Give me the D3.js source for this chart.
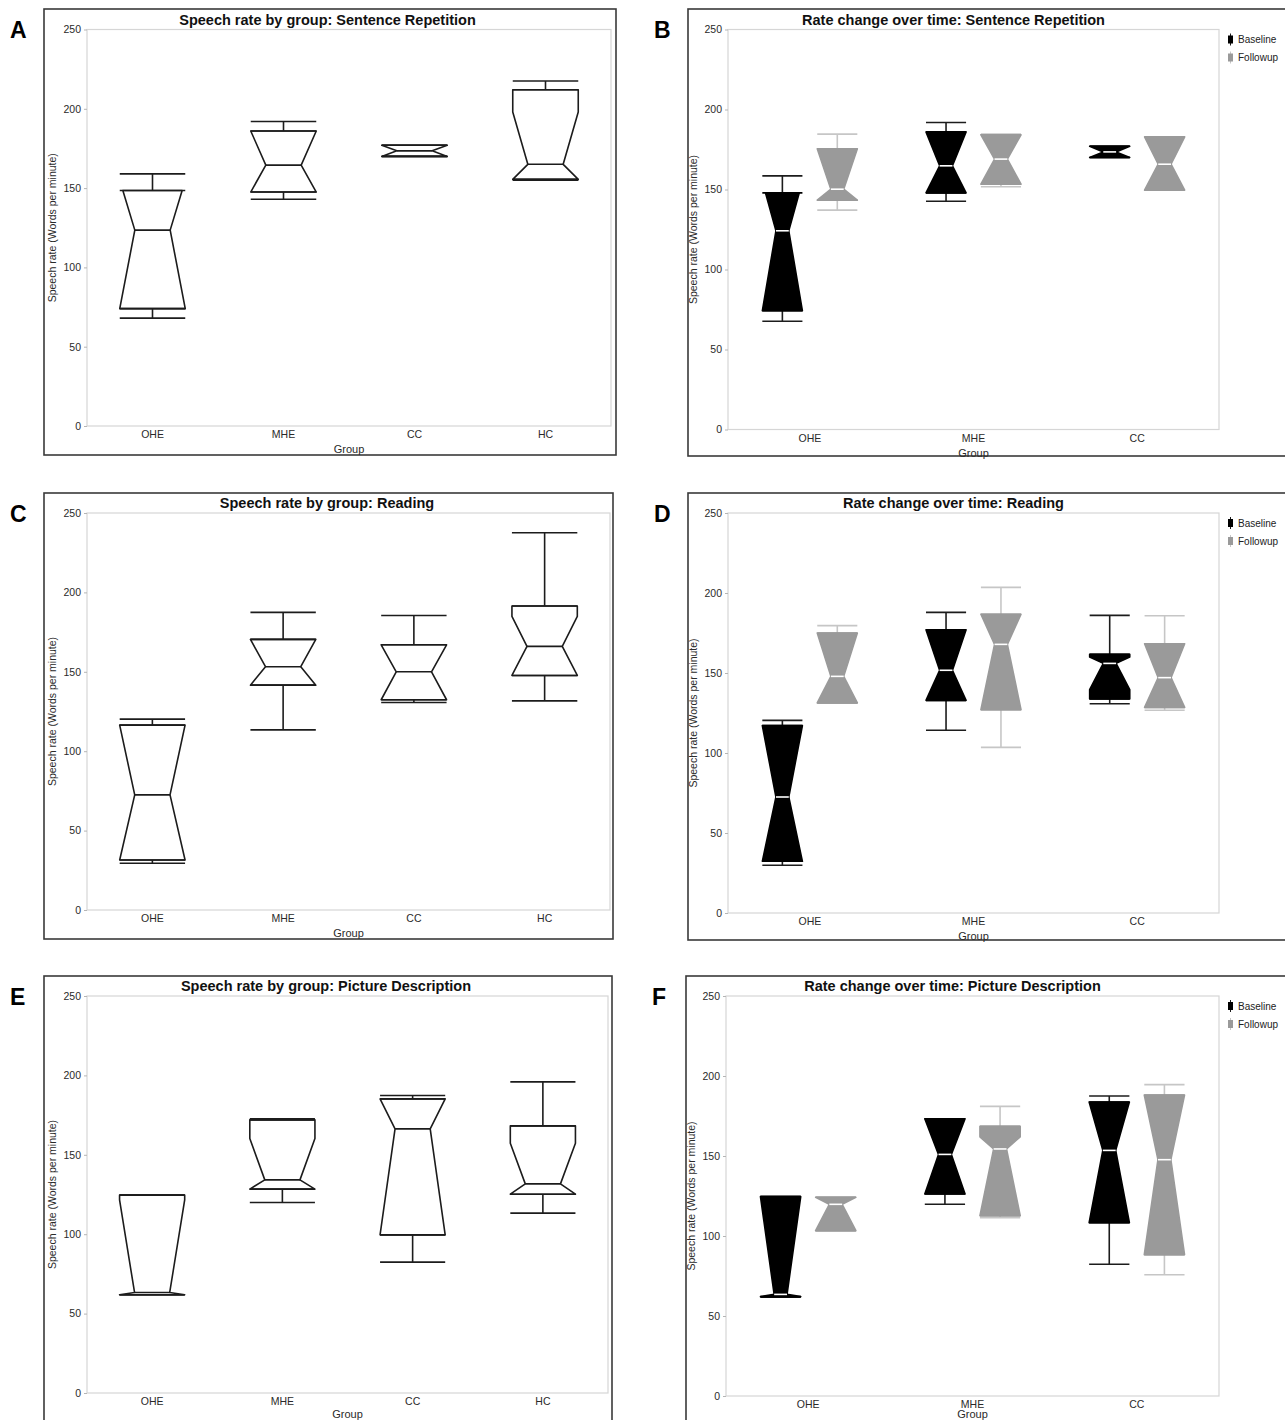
<!DOCTYPE html>
<html><head><meta charset="utf-8">
<script src="https://cdn.jsdelivr.net/npm/d3@7"></script>
<style>
body{margin:0;background:#fff}
svg{display:block;font-family:"Liberation Sans",Arial,Helvetica,sans-serif}
</style>
</head><body>
<svg id="fig" width="1285" height="1420"></svg>
<script>
var groups4 = ["OHE", "MHE", "CC", "HC"];
var groups3 = ["OHE", "MHE", "CC"];
var times = ["Baseline", "Followup"];
var yTicks = [0, 50, 100, 150, 200, 250];

// one box per group: [whisker low, q1, notch low, median, notch high, q3, whisker high]
var sentenceGroup = [
  [68, 74, 74, 123.5, 155, 148.5, 159],
  [143, 147.5, 147.5, 164.5, 186, 186, 192],
  [170, 170, 170, 173.5, 177, 177, 177],
  [155, 155.5, 155.5, 165, 198, 212, 217.5]
];
var sentenceBaseline = [
  [67.7, 74.2, 74.2, 124.2, 155, 147.9, 158.5],
  [142.7, 147.9, 147.9, 164.8, 186, 186, 191.9],
  [170, 170, 170, 173.5, 177, 177, 177]
];
var sentenceFollowup = [
  [137.1, 143.3, 143.3, 150.2, 175.4, 175.4, 184.6],
  [151.7, 153.3, 153.3, 169, 184.2, 184.2, 184.6],
  [149.6, 149.6, 149.6, 165.8, 182.9, 182.9, 182.9]
];
var readingGroup = [
  [29.4, 31.5, 31.5, 72.5, 116.4, 116.4, 120.2],
  [113.4, 141.6, 141.6, 153.2, 170.4, 170.4, 187.4],
  [130.7, 132.4, 132.4, 150, 167, 167, 185.5],
  [131.7, 147.7, 147.7, 166, 184.9, 191.4, 237.6]
];
var readingBaseline = [
  [29.8, 32.3, 32.3, 72.5, 117.1, 117.1, 120.4],
  [114.2, 132.9, 132.9, 151.7, 177, 177, 187.9],
  [130.8, 133.8, 139.6, 156, 160, 161.7, 186]
];
var readingFollowup = [
  [131.3, 131.3, 131.3, 147.9, 175, 175, 179.6],
  [103.5, 127.1, 127.1, 167.9, 186.7, 186.7, 203.5],
  [126.7, 128.5, 128.5, 147.1, 168.3, 168.3, 185.8]
];
var pictureGroup = [
  [61.9, 61.9, 61.9, 63.3, 121.6, 124.6, 124.6],
  [120, 128.4, 128.4, 134.2, 160.3, 172, 172.6],
  [82.4, 99.6, 99.6, 166.3, 185.2, 185.2, 187.3],
  [113.3, 125.2, 125.2, 131.7, 157.3, 168.2, 195.9]
];
var pictureBaseline = [
  [61.7, 62.1, 62.1, 63.5, 124.6, 124.6, 124.6],
  [119.8, 126.3, 126.3, 151, 173.3, 173.3, 173.3],
  [82.3, 108.3, 108.3, 153.5, 183.75, 183.75, 187.5]
];
var pictureFollowup = [
  [103.3, 103.3, 103.3, 119.8, 124.2, 124.2, 124.2],
  [111.5, 112.7, 112.7, 154.4, 162, 168.5, 181],
  [75.8, 88.3, 88.3, 147.7, 188.1, 188.1, 194.6]
];

var panels = [
  {letter: "A", title: "Speech rate by group: Sentence Repetition", frame: [44, 9, 616, 455], plot: [87, 611, 29.5, 426], groups: groups4, boxes: [sentenceGroup]},
  {letter: "B", title: "Rate change over time: Sentence Repetition", frame: [688, 9, 1300, 456], plot: [728, 1219, 29.5, 429.5], groups: groups3, boxes: [sentenceBaseline, sentenceFollowup]},
  {letter: "C", title: "Speech rate by group: Reading", frame: [44, 493, 613, 939], plot: [87, 610, 513, 910], groups: groups4, boxes: [readingGroup]},
  {letter: "D", title: "Rate change over time: Reading", frame: [688, 493, 1300, 940], plot: [728, 1219, 513, 913], groups: groups3, boxes: [readingBaseline, readingFollowup]},
  {letter: "E", title: "Speech rate by group: Picture Description", frame: [44, 976, 612, 1440], plot: [87, 608, 996, 1393], groups: groups4, boxes: [pictureGroup]},
  {letter: "F", title: "Rate change over time: Picture Description", frame: [686, 976, 1300, 1440], plot: [726, 1219, 996, 1396], groups: groups3, boxes: [pictureBaseline, pictureFollowup]}
];

var styles = {
  single: {fill: "none", stroke: "#1c1c1c", whisker: "#1c1c1c", median: "#1c1c1c"},
  Baseline: {fill: "#000", stroke: "#000", whisker: "#1c1c1c", median: "#fff"},
  Followup: {fill: "#9a9a9a", stroke: "#9a9a9a", whisker: "#c6c6c6", median: "#fff"}
};

var svg = d3.select("#fig");
svg.append("rect").attr("width", 1285).attr("height", 1420).attr("fill", "#fff");

var drawBox = function(g, cx, w, inset, y, b, st) {
  var lo = b[0], q1 = b[1], nlo = b[2], med = b[3], nhi = b[4], q3 = b[5], hi = b[6];
  var hw = function(v) {
    var d, n;
    if (v >= med) { d = v - med; n = nhi - med; } else { d = med - v; n = med - nlo; }
    var f = n > 0 ? Math.min(1, d / n) : 1;
    return w / 2 - inset * (1 - f);
  };
  // whiskers
  [[q3, hi], [q1, lo]].forEach(function(p) {
    g.append("line").attr("x1", cx).attr("x2", cx).attr("y1", y(p[0])).attr("y2", y(p[1]))
      .attr("stroke", st.whisker).attr("stroke-width", 1.6);
    g.append("line").attr("x1", cx - w / 2).attr("x2", cx + w / 2).attr("y1", y(p[1])).attr("y2", y(p[1]))
      .attr("stroke", st.whisker).attr("stroke-width", 1.6);
  });
  var vals = [q3];
  if (nhi < q3) vals.push(nhi);
  vals.push(med);
  if (nlo > q1) vals.push(nlo);
  vals.push(q1);
  var pts = vals.map(function(v) { return [cx + hw(v), y(v)]; })
    .concat(vals.slice().reverse().map(function(v) { return [cx - hw(v), y(v)]; }));
  g.append("path").attr("d", d3.line()(pts) + "Z")
    .attr("fill", st.fill).attr("stroke", st.stroke).attr("stroke-width", 1.6).attr("stroke-linejoin", "round");
  [q3, q1].forEach(function(v) {
    g.append("line").attr("x1", cx - w / 2).attr("x2", cx + w / 2).attr("y1", y(v)).attr("y2", y(v))
      .attr("stroke", st.stroke).attr("stroke-width", 1.6);
  });
  g.append("line").attr("x1", cx - hw(med)).attr("x2", cx + hw(med)).attr("y1", y(med)).attr("y2", y(med))
    .attr("stroke", st.median).attr("stroke-width", 1.6);
};

panels.forEach(function(p) {
  var g = svg.append("g");
  var fr = p.frame, pl = p.plot;
  var two = p.boxes.length > 1;

  g.append("rect").attr("x", fr[0]).attr("y", fr[1]).attr("width", fr[2] - fr[0]).attr("height", fr[3] - fr[1])
    .attr("fill", "none").attr("stroke", "#3a3a3a").attr("stroke-width", 1.6);

  g.append("text").attr("x", fr[0] - 34).attr("y", fr[1] + 29)
    .attr("font-size", 23).attr("font-weight", "bold").attr("fill", "#000").text(p.letter);

  var y = d3.scaleLinear().domain([0, 250]).range([pl[3], pl[2]]);
  var x = d3.scaleBand().domain(p.groups).range([pl[0], pl[1]]);

  g.append("rect").attr("x", pl[0]).attr("y", pl[2]).attr("width", pl[1] - pl[0]).attr("height", pl[3] - pl[2])
    .attr("fill", "none").attr("stroke", "#d6d6d6").attr("stroke-width", 1.2);

  var ya = g.append("g").attr("transform", "translate(" + pl[0] + ",0)")
    .call(d3.axisLeft(y).tickValues(yTicks).tickSize(3).tickPadding(3));
  ya.select(".domain").remove();
  ya.selectAll(".tick line").attr("stroke", "#b5b5b5");
  ya.selectAll(".tick text").attr("font-size", 10.5).attr("fill", "#2a2a2a").attr("font-family", null);

  var xa = g.append("g").attr("transform", "translate(0," + pl[3] + ")")
    .call(d3.axisBottom(x).tickSize(0).tickPadding(5));
  xa.select(".domain").remove();
  xa.selectAll(".tick text").attr("font-size", 10.5).attr("fill", "#2a2a2a").attr("font-family", null);

  g.append("text").attr("x", (pl[0] + pl[1]) / 2).attr("y", Math.min(pl[3] + 27, 1418))
    .attr("text-anchor", "middle").attr("font-size", 11).attr("fill", "#2a2a2a").text("Group");

  g.append("text").attr("transform", "translate(" + (pl[0] - 31) + "," + ((pl[2] + pl[3]) / 2) + ") rotate(-90)")
    .attr("text-anchor", "middle").attr("font-size", 10.5).attr("fill", "#2a2a2a").text("Speech rate (Words per minute)");

  g.append("text").attr("x", (fr[0] + pl[1]) / 2).attr("y", pl[2] - 5)
    .attr("text-anchor", "middle").attr("font-size", 14.5).attr("font-weight", "bold").attr("fill", "#111").text(p.title);

  var bg = g.append("g");
  if (!two) {
    p.boxes[0].forEach(function(b, i) {
      var cx = x(p.groups[i]) + x.bandwidth() / 2;
      drawBox(bg, cx, x.bandwidth() * 0.5, x.bandwidth() * 0.5 * 0.23, y, b, styles.single);
    });
  } else {
    var xs = d3.scalePoint().domain(times).range([0, x.bandwidth()]).padding(0.99);
    var bw = xs.step() * 0.73;
    p.boxes.forEach(function(series, s) {
      series.forEach(function(b, i) {
        var cx = x(p.groups[i]) + xs(times[s]);
        drawBox(bg, cx, bw, bw * 0.34, y, b, styles[times[s]]);
      });
    });

    var lg = g.append("g").attr("transform", "translate(" + (pl[1] + 9) + "," + (pl[2] + 10) + ")");
    times.forEach(function(t, k) {
      var st = styles[t];
      var row = lg.append("g").attr("transform", "translate(0," + (k * 18) + ")");
      row.append("line").attr("x1", 2.5).attr("x2", 2.5).attr("y1", -6).attr("y2", 6)
        .attr("stroke", st.whisker).attr("stroke-width", 1);
      row.append("rect").attr("x", 0).attr("y", -4).attr("width", 5).attr("height", 8).attr("fill", st.fill);
      row.append("text").attr("x", 10).attr("y", 3.5).attr("font-size", 10).attr("fill", "#222").text(t);
    });
  }
});
</script>
</body></html>
